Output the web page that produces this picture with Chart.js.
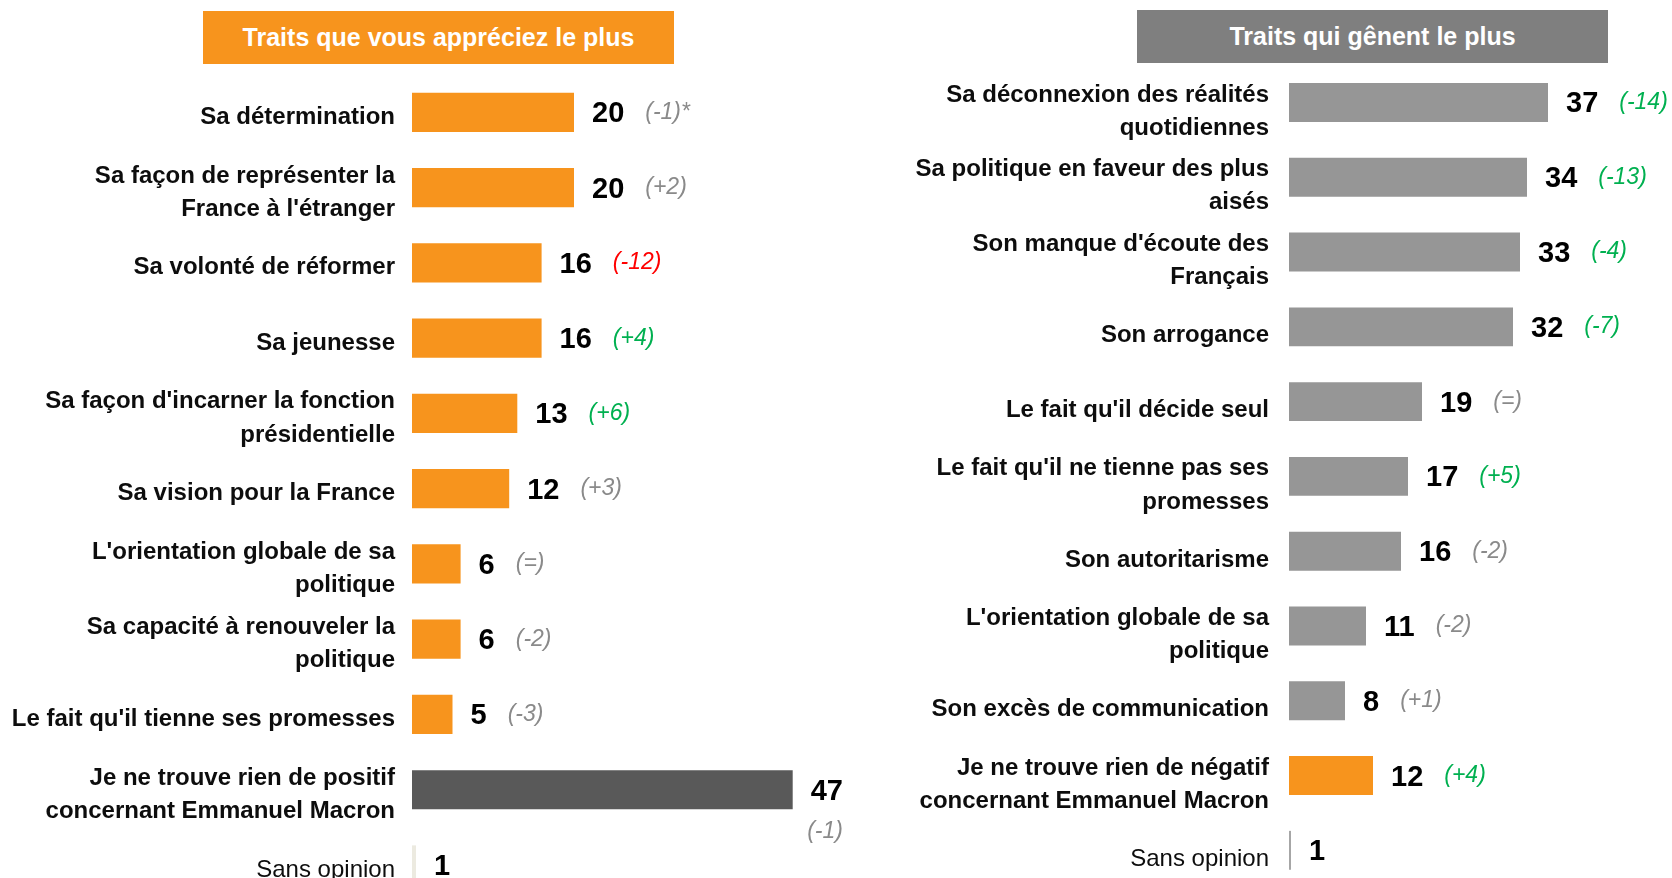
<!DOCTYPE html>
<html><head><meta charset="utf-8">
<script src="https://cdn.jsdelivr.net/npm/chart.js@4/dist/chart.umd.min.js"></script>
<style>
html,body{margin:0;padding:0;background:#fff;overflow:hidden;width:1672px;height:878px;}
#wrap{position:relative;width:1672px;height:878px;overflow:hidden;}
canvas{position:absolute;top:0;}
#c1{left:0;}
#c2{left:880px;}
.title{position:absolute;color:#fff;font:bold 25px 'Liberation Sans',Arial,sans-serif;display:flex;align-items:center;justify-content:center;}
#t1{left:203px;top:11px;width:471px;height:53px;background:#F7941D;}
#t2{left:1137px;top:10px;width:471px;height:53px;background:#7F7F7F;}
</style></head>
<body>
<div id="wrap">
<canvas id="c1" width="900" height="910"></canvas>
<canvas id="c2" width="792" height="900"></canvas>
<div class="title" id="t1">Traits que vous appréciez le plus</div>
<div class="title" id="t2">Traits qui gênent le plus</div>
</div>
<script>
// ---- Data ----
const leftCategories = [
  "Sa détermination",
  ["Sa façon de représenter la", "France à l'étranger"],
  "Sa volonté de réformer",
  "Sa jeunesse",
  ["Sa façon d'incarner la fonction", "présidentielle"],
  "Sa vision pour la France",
  ["L'orientation globale de sa", "politique"],
  ["Sa capacité à renouveler la", "politique"],
  "Le fait qu'il tienne ses promesses",
  ["Je ne trouve rien de positif", "concernant Emmanuel Macron"],
  "Sans opinion"
];
const leftValues = [20, 20, 16, 16, 13, 12, 6, 6, 5, 47, 1];
const leftChanges = ["(-1)*", "(+2)", "(-12)", "(+4)", "(+6)", "(+3)", "(=)", "(-2)", "(-3)", "(-1)", ""];
const leftSignif = ["ns", "ns", "bad", "good", "good", "ns", "ns", "ns", "ns", "ns", ""];

const rightCategories = [
  ["Sa déconnexion des réalités", "quotidiennes"],
  ["Sa politique en faveur des plus", "aisés"],
  ["Son manque d'écoute des", "Français"],
  "Son arrogance",
  "Le fait qu'il décide seul",
  ["Le fait qu'il ne tienne pas ses", "promesses"],
  "Son autoritarisme",
  ["L'orientation globale de sa", "politique"],
  "Son excès de communication",
  ["Je ne trouve rien de négatif", "concernant Emmanuel Macron"],
  "Sans opinion"
];
const rightValues = [37, 34, 33, 32, 19, 17, 16, 11, 8, 12, 1];
const rightChanges = ["(-14)", "(-13)", "(-4)", "(-7)", "(=)", "(+5)", "(-2)", "(-2)", "(+1)", "(+4)", ""];
const rightSignif = ["good", "good", "good", "good", "ns", "good", "ns", "ns", "ns", "good", ""];

// ---- Styles ----
const FAMILY = "'Liberation Sans', Arial, sans-serif";
const ORANGE = '#F7941D', DARK = '#595959', GREY = '#969696';
const SIG_COLORS = {good: '#00B050', bad: '#FF0000', ns: '#8A8A8A'};

function labelPlugin(vals, changes, sig, opt) {
  return {
    id: 'valueLabels',
    afterDatasetsDraw(chart) {
      const ctx = chart.ctx;
      const meta = chart.getDatasetMeta(0);
      const last = vals.length - 1;
      ctx.save();
      meta.data.forEach((bar, i) => {
        let x0;
        if (i === last) {
          ctx.fillStyle = opt.soColor;
          ctx.fillRect(bar.base, bar.y - bar.height / 2, opt.soW, bar.height);
          x0 = bar.base + opt.soW + 18;
        } else {
          x0 = bar.x + 18;
        }
        const txt = String(vals[i]);
        ctx.font = 'bold 29px ' + FAMILY;
        ctx.fillStyle = '#000';
        ctx.textAlign = 'left';
        ctx.textBaseline = 'middle';
        ctx.fillText(txt, x0, bar.y + 2);
        const w = ctx.measureText(txt).width;
        if (changes[i]) {
          ctx.font = 'italic 23px ' + FAMILY;
          ctx.fillStyle = SIG_COLORS[sig[i]];
          if (opt.belowIndex === i) {
            ctx.textAlign = 'right';
            ctx.fillText(changes[i], x0 + w, bar.y + 42);
          } else {
            ctx.textAlign = 'left';
            ctx.fillText(changes[i], x0 + w + 21, bar.y);
          }
        }
      });
      ctx.restore();
    }
  };
}

function panel(id, cats, vals, changes, sig, colors, opt) {
  const last = cats.length - 1;
  new Chart(document.getElementById(id), {
    type: 'bar',
    data: {
      labels: cats,
      datasets: [{
        data: vals,
        backgroundColor: colors,
        barPercentage: 0.52,
        categoryPercentage: 1
      }]
    },
    options: {
      indexAxis: 'y',
      responsive: false,
      animation: false,
      devicePixelRatio: 1,
      layout: {padding: {left: 0, top: opt.top, bottom: opt.bottom, right: opt.right}},
      plugins: {legend: {display: false}, tooltip: {enabled: false}},
      scales: {
        x: {display: false, min: 0, max: opt.max},
        y: {
          grid: {display: false, drawTicks: false},
          border: {display: false},
          ticks: {
            autoSkip: false,
            padding: opt.pad,
            labelOffset: opt.labelOffset,
            color: '#0d0d0d',
            font: (c) => c.index === last
              ? {family: FAMILY, size: 24, weight: 'normal', lineHeight: 1.38}
              : {family: FAMILY, size: 24, weight: 'bold', lineHeight: 1.38}
          },
          afterFit: (s) => { s.width = opt.axisW; s.paddingTop = 0; s.paddingBottom = 0; }
        }
      }
    },
    plugins: [labelPlugin(vals, changes, sig, opt)]
  });
}

const leftColors = leftValues.map((v, i) => i === leftValues.length - 1 ? 'rgba(0,0,0,0)' : (i === leftValues.length - 2 ? DARK : ORANGE));
const rightColors = rightValues.map((v, i) => i === rightValues.length - 1 ? 'rgba(0,0,0,0)' : (i === rightValues.length - 2 ? ORANGE : GREY));

panel('c1', leftCategories, leftValues, leftChanges, leftSignif, leftColors,
  {top: 74.7, bottom: 7.4, right: 83, axisW: 412, max: 50, pad: 17, labelOffset: 5,
   soColor: '#ECEAE0', soW: 4, belowIndex: 9});
panel('c2', rightCategories, rightValues, rightChanges, rightSignif, rightColors,
  {top: 65.1, bottom: 12.3, right: 103, axisW: 409, max: 40, pad: 20, labelOffset: 9,
   soColor: '#A6A6A6', soW: 2, belowIndex: -1});
</script>
</body></html>
